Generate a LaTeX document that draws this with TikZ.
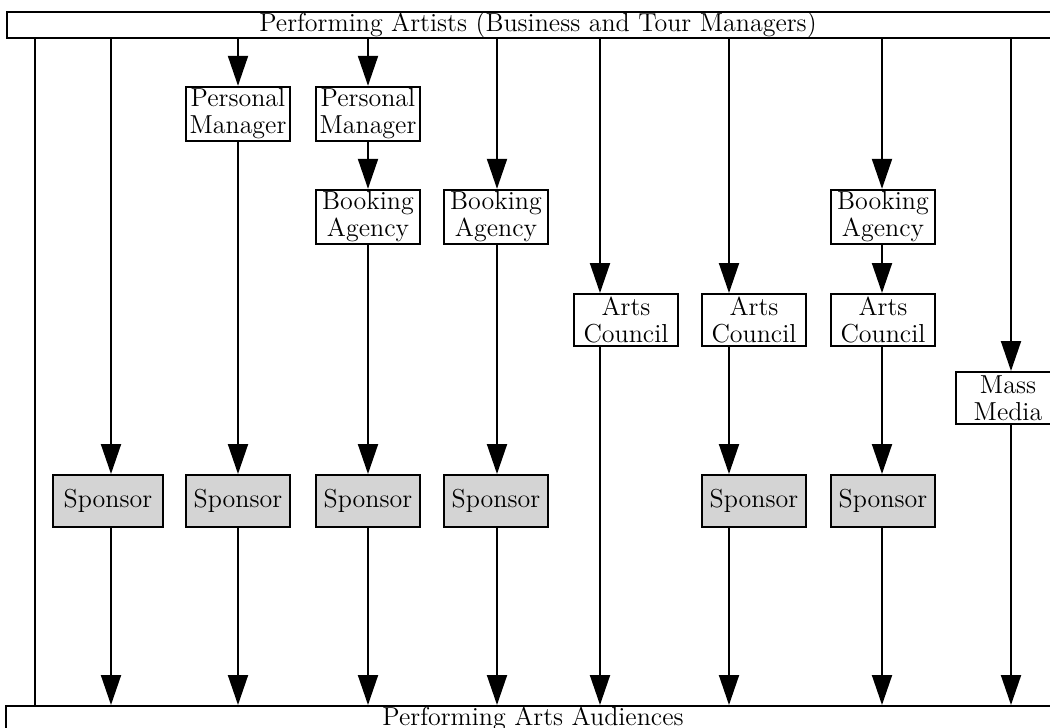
\documentclass[tikz,border=0pt]{standalone}
\usepackage{tikz}
\usetikzlibrary{arrows.meta}
\tikzset{
  block/.style={draw, line width=1pt, minimum width=52pt, minimum height=26pt,
                inner sep=1pt, align=center, font=\fontsize{13}{13.5}\selectfont},
  sponsor/.style={block, fill=black!17},
  band/.style={draw, line width=1pt, minimum height=13pt, inner sep=0pt,
               font=\fontsize{13}{13.5}\selectfont},
  arrow/.style={-{Triangle[length=15pt,width=10pt]}, line width=1pt},
  plain/.style={line width=1pt}
}

\begin{document}
\begin{tikzpicture}[x=0.5pt,y=-0.5pt]
  \useasboundingbox (0,0) rectangle (1050,728);
  \node[band, minimum width=531pt] (artists) at (538,25) {Performing Artists (Business and Tour Managers)};
  \node[band, minimum width=527pt] (aud) at (533,719) {Performing Arts Audiences};
  % column lines
  \foreach \n/\x in {c0/35,c1/111,c2/238,c3/368,c4/497,c5/600,c6/729,c7/882,c8/1011}
    \coordinate (\n) at (\x,0);
  \node[block] (pm1) at (238,114) {Personal\\Manager};
  \node[block] (pm2) at (368,114) {Personal\\Manager};
  \node[block] (ba1) at (368,217) {Booking\\Agency};
  \node[block] (ba2) at (496,217) {Booking\\Agency};
  \node[block] (ba3) at (883,217) {Booking\\Agency};
  \node[block] (ac1) at (626,320) {Arts\\Council};
  \node[block] (ac2) at (754,320) {Arts\\Council};
  \node[block] (ac3) at (883,320) {Arts\\Council};
  \node[block] (mm) at (1008,398) {Mass\\Media};
  \node[sponsor, minimum width=55pt] (sp1) at (108,501) {Sponsor};
  \node[sponsor] (sp2) at (238,501) {Sponsor};
  \node[sponsor] (sp3) at (368,501) {Sponsor};
  \node[sponsor] (sp4) at (496,501) {Sponsor};
  \node[sponsor] (sp5) at (754,501) {Sponsor};
  \node[sponsor] (sp6) at (883,501) {Sponsor};
  \draw[plain] (c0 |- artists.south) -- (c0 |- aud.north);
  \draw[arrow] (c1 |- artists.south) -- (c1 |- sp1.north);
  \draw[arrow] (c1 |- sp1.south) -- (c1 |- aud.north);
  \draw[arrow] (c2 |- artists.south) -- (c2 |- pm1.north);
  \draw[arrow] (c2 |- pm1.south) -- (c2 |- sp2.north);
  \draw[arrow] (c2 |- sp2.south) -- (c2 |- aud.north);
  \draw[arrow] (c3 |- artists.south) -- (c3 |- pm2.north);
  \draw[arrow] (c3 |- pm2.south) -- (c3 |- ba1.north);
  \draw[arrow] (c3 |- ba1.south) -- (c3 |- sp3.north);
  \draw[arrow] (c3 |- sp3.south) -- (c3 |- aud.north);
  \draw[arrow] (c4 |- artists.south) -- (c4 |- ba2.north);
  \draw[arrow] (c4 |- ba2.south) -- (c4 |- sp4.north);
  \draw[arrow] (c4 |- sp4.south) -- (c4 |- aud.north);
  \draw[arrow] (c5 |- artists.south) -- (c5 |- ac1.north);
  \draw[arrow] (c5 |- ac1.south) -- (c5 |- aud.north);
  \draw[arrow] (c6 |- artists.south) -- (c6 |- ac2.north);
  \draw[arrow] (c6 |- ac2.south) -- (c6 |- sp5.north);
  \draw[arrow] (c6 |- sp5.south) -- (c6 |- aud.north);
  \draw[arrow] (c7 |- artists.south) -- (c7 |- ba3.north);
  \draw[arrow] (c7 |- ba3.south) -- (c7 |- ac3.north);
  \draw[arrow] (c7 |- ac3.south) -- (c7 |- sp6.north);
  \draw[arrow] (c7 |- sp6.south) -- (c7 |- aud.north);
  \draw[arrow] (c8 |- artists.south) -- (c8 |- mm.north);
  \draw[arrow] (c8 |- mm.south) -- (c8 |- aud.north);
\end{tikzpicture}
\end{document}
